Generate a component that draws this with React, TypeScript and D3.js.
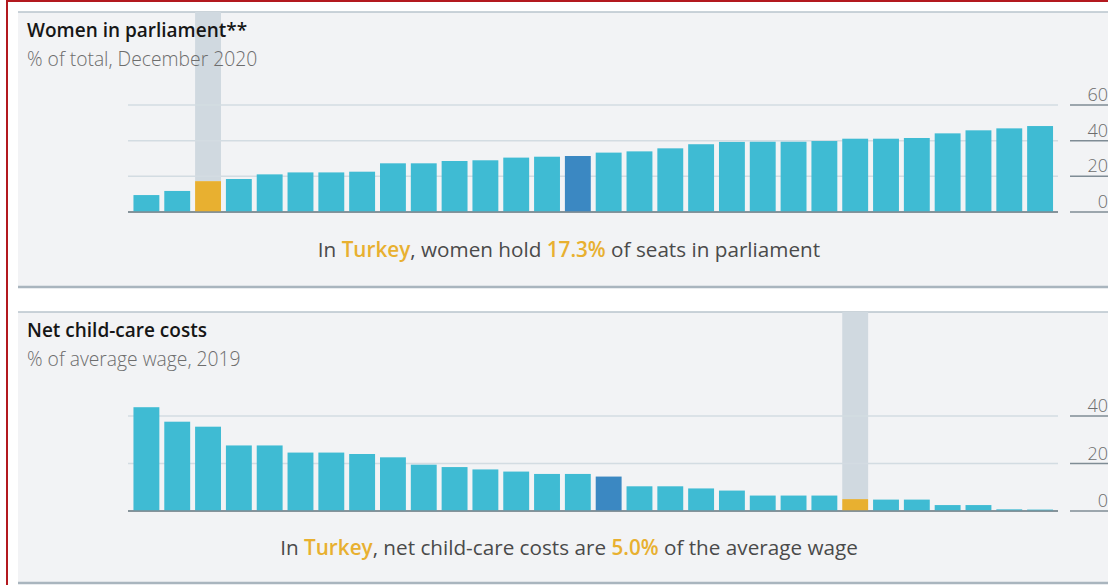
import React from "react";
import * as d3 from "d3";

// ---------- Data ----------
const parliamentCountries = [
  "Japan", "Hungary", "Turkey", "South Korea", "Greece", "Czech Republic",
  "Slovakia", "Chile", "Ireland", "Estonia", "Israel", "United States",
  "Poland", "Slovenia", "OECD", "Latvia", "Britain", "Lithuania", "Canada",
  "Germany", "Italy", "Australia", "Switzerland", "Austria", "Denmark",
  "Portugal", "Netherlands", "Belgium", "Norway", "Sweden",
];
const parliamentValues = [
  9.5, 11.8, 17.3, 18.5, 21.1, 22.2, 22.2, 22.6, 27.3, 27.3, 28.6, 29.0,
  30.5, 31.0, 31.4, 33.3, 34.0, 35.7, 38.0, 39.3, 39.4, 39.4, 39.8, 41.1,
  41.1, 41.5, 44.1, 45.8, 46.9, 48.2,
];
const parliamentTicks = [0, 20, 40, 60];

const childcareCountries = [
  "Switzerland", "Slovakia", "New Zealand", "Japan", "Britain", "Ireland",
  "Czech Republic", "Netherlands", "United States", "Canada", "Israel",
  "Australia", "Belgium", "Luxembourg", "France", "OECD", "Latvia", "Finland",
  "Denmark", "Norway", "Poland", "Slovenia", "Iceland", "Turkey", "Hungary",
  "Sweden", "Estonia", "Portugal", "Germany", "Austria",
];
const childcareValues = [
  43.7, 37.6, 35.5, 27.6, 27.6, 24.6, 24.6, 24.0, 22.6, 19.5, 18.5, 17.5,
  16.6, 15.6, 15.6, 14.5, 10.4, 10.4, 9.5, 8.6, 6.5, 6.5, 6.5, 5.0, 4.8, 4.8,
  2.5, 2.5, 0.7, 0.6,
];
const childcareTicks = [0, 20, 40];

const FOCUS = "Turkey";
const AVERAGE = "OECD";

// ---------- Styles ----------
const FONT = "'Open Sans', 'Noto Sans', sans-serif";
const C = {
  panel: "#f2f3f5",
  panelLine: "#b9c5cd",
  panelBottom: "#a9b5be",
  grid: "#d3dce2",
  axis: "#7f8c95",
  bar: "#3fbbd3",
  avg: "#3b88c2",
  focus: "#e8b030",
  highlight: "#d0d9e0",
  title: "#161616",
  sub: "#6d6d6d",
  text: "#4a4a4a",
  red: "#b3191f",
};

type PanelProps = {
  top: number;
  bottom: number;
  title: string;
  subtitle: string;
  countries: string[];
  values: number[];
  ticks: number[];
  yMax: number;
  yTop: number;
  baseY: number;
  noteY: number;
  note: React.ReactNode;
};

function Panel(p: PanelProps) {
  const x = d3
    .scaleBand<string>()
    .domain(p.countries)
    .range([131, 1055.5])
    .paddingInner(0.16)
    .paddingOuter(0.08);
  const y = d3.scaleLinear().domain([0, p.yMax]).range([p.baseY, p.yTop]);
  const focusIdx = p.countries.indexOf(FOCUS);
  const fx = x(FOCUS)!;
  return (
    <g>
      <rect x={18} y={p.top} width={1100} height={p.bottom - p.top} fill={C.panel} />
      <line x1={18} x2={1108} y1={p.top} y2={p.top} stroke={C.panelLine} strokeWidth={1.5} />
      <line x1={18} x2={1108} y1={p.bottom} y2={p.bottom} stroke={C.panelBottom} strokeWidth={2.5} />
      {/* highlight column */}
      <rect
        x={fx}
        y={p.top}
        width={x.bandwidth()}
        height={y(p.values[focusIdx]) - p.top}
        fill={C.highlight}
      />
      <text x={27} y={p.top + 24.5} fontFamily={FONT} fontSize={19} fontWeight={600} fill={C.title}>
        {p.title}
      </text>
      <text x={27} y={p.top + 53.5} fontFamily={FONT} fontSize={19.3} fontWeight={300} fill={C.sub}>
        {p.subtitle}
      </text>
      {/* gridlines and axis */}
      {p.ticks.map((t) => (
        <g key={t}>
          <line
            x1={128}
            x2={1058}
            y1={y(t)}
            y2={y(t)}
            stroke={t === 0 ? C.axis : C.grid}
            strokeWidth={1.5}
          />
          <line x1={1070} x2={1108} y1={y(t)} y2={y(t)} stroke={C.axis} strokeWidth={1.5} />
          <text
            x={1108}
            y={y(t) - 4}
            textAnchor="end"
            fontFamily={FONT}
            fontSize={18}
            fontWeight={300}
            fill={C.sub}
          >
            {t}
          </text>
        </g>
      ))}
      {/* bars */}
      {p.countries.map((c, i) => (
        <rect
          key={c + i}
          x={x(c)}
          y={y(p.values[i])}
          width={x.bandwidth()}
          height={y(0) - y(p.values[i])}
          fill={c === FOCUS ? C.focus : c === AVERAGE ? C.avg : C.bar}
        />
      ))}
      <line x1={128} x2={1058} y1={y(0)} y2={y(0)} stroke={C.axis} strokeWidth={1.5} />
      <text
        x={569}
        y={p.noteY}
        textAnchor="middle"
        fontFamily={FONT}
        fontSize={20.7}
        fill={C.text}
      >
        {p.note}
      </text>
    </g>
  );
}

export default function App() {
  const pTurkey = parliamentValues[parliamentCountries.indexOf(FOCUS)];
  const cTurkey = childcareValues[childcareCountries.indexOf(FOCUS)];
  const hl = (s: string) => (
    <tspan fill={C.focus} fontWeight={600}>
      {s}
    </tspan>
  );
  return (
    <svg
      width={1108}
      height={585}
      style={{ position: "absolute", left: 0, top: 0, display: "block" }}
    >
      <rect x={0} y={0} width={1108} height={585} fill="#ffffff" />
      <Panel
        top={12}
        bottom={287}
        title="Women in parliament**"
        subtitle="% of total, December 2020"
        countries={parliamentCountries}
        values={parliamentValues}
        ticks={parliamentTicks}
        yMax={60}
        yTop={105}
        baseY={212}
        noteY={256.5}
        note={
          <>
            In {hl("Turkey")}, women hold {hl(pTurkey.toFixed(1) + "%")} of seats in parliament
          </>
        }
      />
      <Panel
        top={312}
        bottom={583}
        title="Net child-care costs"
        subtitle="% of average wage, 2019"
        countries={childcareCountries}
        values={childcareValues}
        ticks={childcareTicks}
        yMax={40}
        yTop={416}
        baseY={511}
        noteY={555}
        note={
          <>
            In {hl("Turkey")}, net child-care costs are {hl(cTurkey.toFixed(1) + "%")} of the average wage
          </>
        }
      />
      {/* outer red frame */}
      <line x1={7} x2={1108} y1={1} y2={1} stroke={C.red} strokeWidth={2} />
      <line x1={7} x2={7} y1={0} y2={585} stroke={C.red} strokeWidth={2} />
    </svg>
  );
}
